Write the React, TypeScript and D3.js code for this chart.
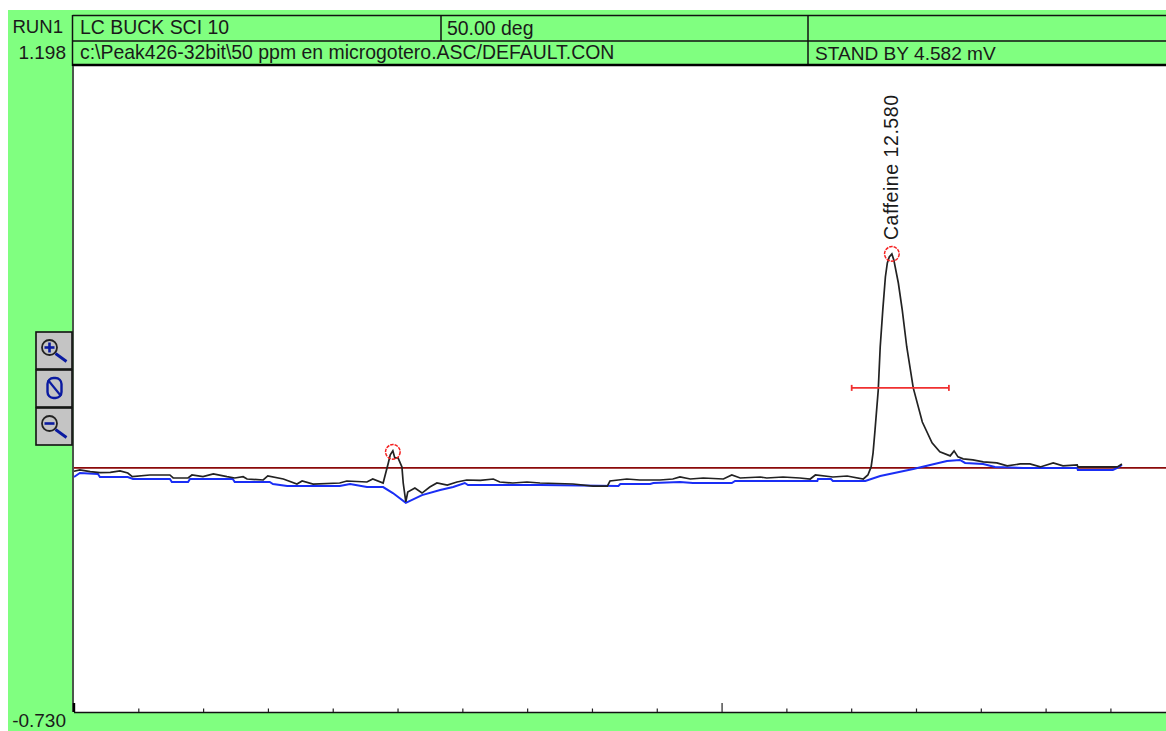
import React from "react";
import * as d3 from "d3";

const runLabel = "RUN1";
const yMaxLabel = "1.198";
const yMinLabel = "-0.730";
const headerMethod = "LC BUCK SCI 10";
const headerTemp = "50.00 deg";
const headerFile = "c:\\Peak426-32bit\\50 ppm en microgotero.ASC/DEFAULT.CON";
const headerStatus = "STAND BY 4.582 mV";
const peakLabel = "Caffeine 12.580";

const traceTimes = [0,.09,.25,.40,.56,.71,.83,.90,1.17,1.48,1.53,1.76,1.82,1.99,2.15,2.36,2.48,2.61,2.67,2.92,2.99,3.23,3.44,3.52,3.69,4.10,4.21,4.52,4.61,4.77,4.85,4.88,4.92,4.95,5.00,5.06,5.08,5.12,5.15,5.26,5.37,5.49,5.60,5.76,5.91,6.06,6.27,6.47,6.57,6.77,6.99,7.19,7.70,8.01,8.23,8.27,8.53,8.73,9.04,9.24,9.35,9.51,9.71,10.02,10.15,10.28,10.59,10.69,10.94,11.20,11.36,11.44,11.71,11.93,12.18,12.25,12.30,12.33,12.36,12.41,12.44,12.48,12.52,12.55,12.58,12.62,12.65,12.72,12.78,12.85,12.95,13.09,13.24,13.36,13.52,13.58,13.64,13.72,13.87,14.03,14.24,14.40,14.60,14.75,14.91,15.11,15.26,15.48,15.49,15.94,16.10,16.17];
const traceValues = [-.010,-.006,-.011,-.014,-.013,-.009,-.015,-.026,-.021,-.021,-.030,-.030,-.021,-.026,-.018,-.026,-.030,-.026,-.033,-.036,-.024,-.033,-.048,-.039,-.048,-.045,-.039,-.042,-.033,-.045,.015,.039,.051,.030,.030,.003,-.045,-.101,-.072,-.060,-.075,-.057,-.045,-.051,-.042,-.036,-.037,-.033,-.042,-.045,-.042,-.045,-.048,-.054,-.054,-.039,-.033,-.036,-.036,-.033,-.027,-.033,-.030,-.033,-.021,-.030,-.027,-.030,-.027,-.030,-.033,-.021,-.027,-.024,-.033,-.021,.003,.045,.113,.233,.361,.472,.570,.612,.630,.639,.621,.552,.472,.361,.239,.137,.075,.048,.036,.051,.033,.027,.024,.018,.015,.006,.012,.012,.003,.015,.006,.009,.003,.003,.003,.012];

const baselineTimes = [0,.09,.37,.40,.83,.91,1.48,1.51,1.76,1.79,2.45,2.48,3.02,3.07,3.29,4.10,4.26,4.52,4.77,4.92,5.12,5.37,5.65,5.85,6.03,6.08,7.19,8.40,8.43,8.89,8.94,9.35,9.55,10.15,10.20,11.47,11.48,11.68,11.71,12.21,12.44,12.95,13.47,13.67,13.75,14.03,14.21,14.65,15.02,15.48,15.49,16.03,16.10,16.17];
const baselineValues = [-.027,-.015,-.018,-.027,-.027,-.033,-.033,-.042,-.042,-.033,-.033,-.042,-.042,-.048,-.054,-.054,-.048,-.057,-.057,-.075,-.104,-.081,-.066,-.057,-.045,-.051,-.051,-.054,-.048,-.048,-.045,-.042,-.045,-.045,-.039,-.039,-.033,-.033,-.039,-.039,-.024,-.003,.021,.024,.015,.012,.003,0,0,0,-.006,-.006,0,.009];

const peakMarkerTimes = [4.92, 12.62];
const peakMarkerValues = [.048, .639];
const widthBarTimes = [12.0, 13.5];
const widthBarValue = .239;
const tickMinutes = [1,2,3,4,5,6,7,8,9,10,11,12,13,14,15,16];
const majorTick = 10;

const GREEN = "#80FF80";
const x = d3.scaleLinear().domain([0, 16.85]).range([74, 1166]);
const y = d3.scaleLinear().domain([-0.73, 1.198]).range([712.5, 66.6]);
const line = (ts: number[], vs: number[]) =>
  d3.line<number>().x((t) => x(t)).y((_, i) => y(vs[i]))(ts) || "";

const font = "'Liberation Sans', Arial, sans-serif";

function ZoomButton({ top, kind }: { top: number; kind: "in" | "reset" | "out" }) {
  const cx = 49.5;
  const cy = top + 15.5;
  return (
    <g>
      <rect x={36} y={top} width={36} height={37} fill="#C4C4C4" stroke="#111" strokeWidth={1.6} />
      {kind === "reset" ? (
        <g>
          <rect x={47.5} y={top + 8} width={14} height={20} rx={6} fill="none" stroke="#0A1AA0" strokeWidth={2.4} />
          <line x1={48} y1={top + 10} x2={61} y2={top + 26} stroke="#0A1AA0" strokeWidth={2.2} />
        </g>
      ) : (
        <g>
          <circle cx={cx} cy={cy} r={7.5} fill="none" stroke="#222" strokeWidth={1.8} />
          <line x1={cx - 5} y1={cy} x2={cx + 5} y2={cy} stroke="#0A1AA0" strokeWidth={2.6} />
          {kind === "in" && <line x1={cx} y1={cy - 5} x2={cx} y2={cy + 5} stroke="#0A1AA0" strokeWidth={2.6} />}
          <line x1={cx + 6} y1={cy + 6} x2={cx + 17} y2={cy + 14} stroke="#0A1AA0" strokeWidth={2.8} />
        </g>
      )}
    </g>
  );
}

export default function App() {
  const peakX = x(peakMarkerTimes[1]);
  const barY = y(widthBarValue);
  return (
    <svg width={1166} height={731} style={{ position: "absolute", left: 0, top: 0, fontFamily: font }}>
      <rect x={0} y={0} width={1166} height={731} fill="#fff" />
      <rect x={8} y={10} width={1158} height={721} fill={GREEN} />
      <rect x={74} y={66} width={1092} height={646} fill="#fff" />

      <g fill="none" stroke="#111" strokeWidth={1.5}>
        <line x1={72.5} y1={15.5} x2={1166} y2={15.5} />
        <line x1={72.5} y1={41} x2={1166} y2={41} />
        <line x1={72.5} y1={15} x2={72.5} y2={66} />
        <line x1={441} y1={15} x2={441} y2={41} />
        <line x1={808} y1={15} x2={808} y2={66} />
      </g>
      <line x1={72} y1={65} x2={1166} y2={65} stroke="#000" strokeWidth={2.6} />
      <line x1={73} y1={66} x2={73} y2={712} stroke="#444" strokeWidth={1.8} />
      <line x1={74} y1={712.5} x2={1166} y2={712.5} stroke="#111" strokeWidth={1.6} />
      <line x1={74} y1={703} x2={74} y2={712} stroke="#000" strokeWidth={2.4} />

      {tickMinutes.map((m) => (
        <line key={m} x1={x(m)} x2={x(m)} y1={712} y2={m === majorTick ? 703 : 708.5} stroke="#222" strokeWidth={1.2} />
      ))}

      <g fontSize={19.45} fill="#1a1a1a">
        <text x={63} y={33} textAnchor="end" fontSize={18.6}>{runLabel}</text>
        <text x={66} y={59} textAnchor="end" fontSize={19}>{yMaxLabel}</text>
        <text x={66} y={726.5} textAnchor="end" fontSize={19}>{yMinLabel}</text>
        <text x={80} y={33.7}>{headerMethod}</text>
        <text x={447} y={34.7}>{headerTemp}</text>
        <text x={80} y={59}>{headerFile}</text>
        <text x={815} y={60} fontSize={19.1}>{headerStatus}</text>
      </g>

      <ZoomButton top={332} kind="in" />
      <ZoomButton top={370} kind="reset" />
      <ZoomButton top={408} kind="out" />

      <line x1={74} x2={1166} y1={y(0)} y2={y(0)} stroke="#8B0A0A" strokeWidth={1.8} />
      <path d={line(baselineTimes, baselineValues)} fill="none" stroke="#1A2EF5" strokeWidth={2} />
      <path d={line(traceTimes, traceValues)} fill="none" stroke="#222" strokeWidth={1.7} />

      {peakMarkerTimes.map((t, i) => (
        <circle key={t} cx={x(t)} cy={y(peakMarkerValues[i])} r={7.3} fill="none" stroke="#F52020" strokeWidth={1.5} strokeDasharray="3.5 1" />
      ))}

      <g stroke="#F03030" strokeWidth={1.8}>
        <line x1={x(widthBarTimes[0])} x2={x(widthBarTimes[1])} y1={barY} y2={barY} />
        <line x1={x(widthBarTimes[0])} x2={x(widthBarTimes[0])} y1={barY - 3} y2={barY + 3} />
        <line x1={x(widthBarTimes[1])} x2={x(widthBarTimes[1])} y1={barY - 3} y2={barY + 3} />
      </g>

      <text transform={`translate(${peakX + 6},240) rotate(-90)`} fontSize={19.5} fill="#1a1a1a" textLength={145}>{peakLabel}</text>
    </svg>
  );
}
